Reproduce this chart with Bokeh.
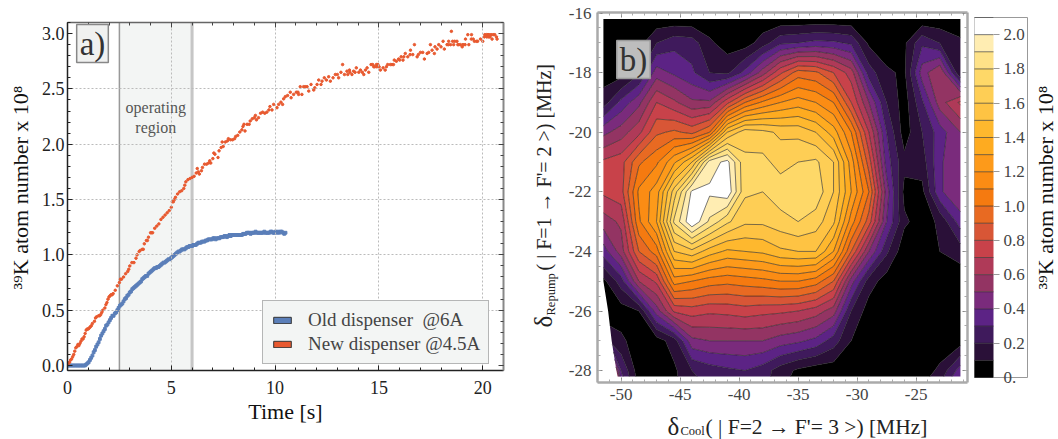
from math import pi
from bokeh.plotting import figure
from bokeh.layouts import row, column
from bokeh.models import (Range1d, FixedTicker, LinearAxis, Label, Span, BoxAnnotation, Legend, LegendItem)
from bokeh.embed import file_html
from bokeh.resources import INLINE
import numpy as np

SERIF = "Liberation Serif"

orange_t = [.05,.1,.15,.2,.25,.3,.35,.4,.45,.5,.55,.6,.65,.7,.75,.8,.85,.9,.95,1.0,1.05,1.1,1.15,1.2,1.3,1.35,1.4,1.5,1.55,1.6,1.65,1.7,1.8,1.85,1.9,1.95,2.0,2.05,2.1,2.15,2.2,2.3,2.4,2.5,2.55,2.6,2.7,2.8,2.9,2.95,3.0,3.1,3.2,3.3,3.35,3.45,3.5,3.6,3.65,3.7,3.8,3.85,3.9,4.0,4.05,4.1,4.2,4.3,4.4,4.5,4.6,4.7,4.8,4.9,5.0,5.05,5.1,5.15,5.2,5.3,5.4,5.5,5.6,5.65,5.7,5.8,5.9,
 6.0,6.1,6.2,6.25,6.3,6.35,6.45,6.5,6.6,6.7,6.8,6.85,6.9,7.0,7.05,7.1,7.25,7.3,7.4,7.45,7.5,7.6,7.7,7.75,7.85,7.95,8.05,8.1,8.2,8.3,8.4,8.45,8.5,8.55,8.65,8.75,8.8,8.9,9.0,9.05,9.1,9.2,9.3,9.4,9.5,9.6,9.7,9.75,9.85,
 9.93,10.09,10.17,10.28,10.36,10.41,10.49,10.60,10.73,10.77,10.89,11.02,11.13,11.21,11.29,11.37,11.54,11.62,11.73,11.86,11.91,12.02,12.10,12.21,12.26,12.37,12.47,12.58,12.66,12.79,12.90,13.06,13.17,13.25,13.34,13.46,13.58,13.70,13.78,13.91,14.03,14.11,14.27,14.35,14.43,14.51,14.62,14.75,14.88,15.01,15.07,15.20,15.36,15.42,15.63,15.74,15.84,15.95,16.07,16.16,16.27,16.39,16.52,16.63,16.71,16.84,17.00,17.11,17.19,17.32,17.40,17.48,17.56,17.67,17.80,17.88,17.99,18.09,18.15,18.28,18.36,18.49,18.60,18.76,18.93,19.01,19.17,19.28,19.33,19.46,19.54,19.70,19.89,20.00,20.08,20.18,20.29,20.40,20.45,20.58,20.66,20.69,
 11.45,11.1,13.0,13.5,13.6,13.85,14.2,14.7,14.95,14.8,14.9,15.3,15.55,15.7,16.0,16.2,16.5,16.9,17.7,18.35,18.45,18.55,18.65,18.8,18.85,19.05,19.15,19.45,19.6,19.75,20.1,20.25,20.3,20.5,20.35,20.2]
orange_v = [.02,.03,.05,.06,.08,.10,.13,.16,.17,.19,.18,.20,.22,.24,.24,.26,.29,.32,.33,.33,.34,.35,.36,.38,.40,.43,.44,.45,.45,.46,.48,.50,.52,.55,.57,.60,.62,.63,.64,.64,.65,.68,.72,.75,.78,.78,.80,.83,.85,.87,.90,.93,.93,.97,1.0,1.03,1.04,1.05,1.05,1.10,1.13,1.13,1.16,1.20,1.20,1.20,1.24,1.26,1.28,1.32,1.34,1.36,1.38,1.40,1.43,1.48,1.48,1.50,1.52,1.55,1.57,1.58,1.60,1.63,1.66,1.68,1.69,
 1.70,1.71,1.74,1.78,1.75,1.73,1.76,1.79,1.82,1.82,1.83,1.85,1.83,1.87,1.92,1.91,1.88,1.94,1.97,2.02,1.98,2.02,2.03,2.05,2.04,2.04,2.05,2.07,2.08,2.11,2.13,2.16,2.18,2.12,2.18,2.18,2.21,2.23,2.24,2.26,2.22,2.24,2.28,2.29,2.28,2.29,2.31,2.34,2.31,
 2.36,2.33,2.36,2.38,2.36,2.41,2.43,2.44,2.47,2.42,2.45,2.47,2.45,2.52,2.45,2.52,2.52,2.48,2.54,2.49,2.51,2.54,2.58,2.54,2.57,2.60,2.58,2.61,2.57,2.60,2.63,2.60,2.65,2.72,2.63,2.66,2.67,2.63,2.66,2.69,2.65,2.67,2.63,2.67,2.69,2.65,2.72,2.70,2.72,2.70,2.67,2.69,2.70,2.72,2.72,2.76,2.75,2.77,2.79,2.76,2.82,2.79,2.85,2.81,2.90,2.79,2.83,2.83,2.77,2.82,2.83,2.90,2.85,2.82,2.86,2.90,2.88,2.93,2.86,2.90,2.93,3.02,2.90,2.93,2.90,2.88,2.95,2.99,2.90,2.99,2.95,2.93,2.95,2.93,2.97,2.99,2.97,2.99,2.95,2.99,2.97,2.95,
 2.52,2.47,2.63,2.63,2.65,2.65,2.65,2.72,2.72,2.70,2.70,2.67,2.72,2.72,2.76,2.79,2.81,2.81,2.88,2.90,2.90,2.93,2.93,2.90,2.90,2.90,2.90,2.95,2.93,2.93,2.99,2.99,2.99,2.99,2.97,2.97]

blue_t = [0,.06,.12,.18,.24,.3,.36,.42,.48,.54,.6,.66,.72,.78,.84,.9,.96,1.02,1.08,1.14,1.2,1.26,1.32,1.38,1.44,1.5,1.56,1.62,1.68,1.74,1.8,1.86,1.92,1.98,2.04,2.1,2.16,2.22,2.28,2.34,2.4,2.46,2.52,2.58,2.64,2.7,2.76,2.82,2.88,2.94,3.0,3.06,3.12,3.18,3.24,3.3,3.36,3.42,3.48,3.54,3.6,3.66,3.72,3.78,3.84,3.9,3.96,4.02,4.08,4.14,4.2,4.26,4.32,4.38,4.44,4.5,4.56,4.62,4.68,4.74,4.8,4.86,4.92,4.98,5.04,5.1,5.16,5.22,5.28,5.34,5.4,5.46,5.52,5.58,5.64,5.7,5.76,5.82,5.88,5.94,6.0,6.06,6.12,6.18,6.24,6.3,6.36,6.42,6.48,6.54,6.6,6.66,6.72,6.78,6.84,6.9,6.96,7.02,7.08,7.14,7.2,7.26,7.32,7.38,7.44,7.5,7.56,7.62,7.68,7.74,7.8,7.86,7.92,7.98,8.04,8.1,8.16,8.22,8.28,8.34,8.4,8.46,8.52,8.58,8.64,8.7,8.76,8.82,8.88,8.94,9.0,9.06,9.12,9.18,9.24,9.3,9.36,9.42,9.48,9.54,9.6,9.66,9.72,9.78,9.84,9.9,9.96,10.02,10.08,10.14,10.2,10.26,10.32,10.38,10.44,10.5]
blue_v = [0,.0,.0,.0,.0,.0,.0,.0,.0,.0,.0,.0,.0,.0,.0,.01,.02,.03,.05,.07,.09,.12,.14,.17,.19,.21,.24,.27,.29,.31,.33,.36,.37,.39,.41,.43,.45,.45,.47,.48,.50,.52,.54,.55,.56,.58,.60,.61,.63,.64,.66,.67,.69,.70,.71,.72,.73,.74,.75,.76,.78,.79,.80,.81,.81,.83,.84,.85,.86,.87,.88,.88,.89,.89,.90,.91,.92,.93,.93,.94,.95,.96,.96,.97,.98,.99,1.0,1.01,1.02,1.03,1.03,1.04,1.05,1.05,1.05,1.06,1.07,1.07,1.08,1.08,1.08,1.09,1.09,1.09,1.10,1.11,1.11,1.11,1.12,1.12,1.12,1.13,1.13,1.14,1.14,1.14,1.14,1.15,1.15,1.14,1.15,1.15,1.15,1.16,1.16,1.16,1.17,1.17,1.16,1.17,1.18,1.17,1.18,1.18,1.18,1.18,1.18,1.18,1.18,1.18,1.18,1.19,1.19,1.19,1.20,1.20,1.20,1.19,1.20,1.20,1.20,1.21,1.20,1.20,1.20,1.20,1.20,1.20,1.21,1.20,1.20,1.20,1.20,1.21,1.21,1.20,1.20,1.21,1.20,1.21,1.20,1.21,1.21,1.20,1.19,1.20]

legend_names = ["Old dispenser  @6A", "New dispenser @4.5A"]

cool_x = [-51.5,-50,-48.5,-47,-45.5,-44,-42.5,-41,-39.5,-38,-36.5,-35,-33.5,-32,-30.5,-29,-27.5,-26,-24.5,-23,-21.25]
repump_y = [-16.2,-17,-18,-19,-20,-21,-22,-23,-24,-25,-26,-27,-28,-28.2]
left_edge = [-51.5,-51.5,-51.5,-51.5,-51.5,-51.5,-51.5,-51.5,-51.5,-51.5,-51.1,-50.8,-50.4,-50.3]
atoms = [
 [.03]*21,
 [.05,.05,.06,.20,.27,.25,.12,.05,.05,.15,.28,.30,.33,.32,.28,.08,.03,.08,.28,.2,.12],
 [.05,.05,.18,.45,.38,.32,.2,.18,.33,.55,.78,.95,.92,.8,.65,.25,.12,.08,.45,.6,.1],
 [.15,.33,.47,.7,.62,.52,.52,.77,1.0,1.12,1.2,1.25,1.2,1.1,.8,.5,.2,.05,.28,.55,.72],
 [.47,.55,.67,.88,.92,.87,1.0,1.5,1.66,1.63,1.58,1.57,1.5,1.35,1.1,.7,.3,.05,.2,.35,.5],
 [.72,.76,.98,1.08,1.28,1.5,1.95,2.03,1.72,1.73,1.66,1.7,1.72,1.6,1.25,.85,.35,.13,.15,.38,.5],
 [.72,.76,1.12,1.25,1.65,2.02,2.02,2.08,1.72,1.7,1.76,1.78,1.77,1.6,1.3,1.0,.45,.07,.07,.38,.5],
 [.55,.62,1.08,1.3,1.82,2.09,1.88,1.72,1.62,1.62,1.66,1.7,1.65,1.52,1.15,.85,.4,.12,.05,.12,.35],
 [.35,.55,.9,1.05,1.5,1.57,1.45,1.38,1.4,1.42,1.48,1.5,1.5,1.3,.9,.5,.22,.03,.05,.1,.15],
 [.07,.25,.6,.72,1.15,1.1,1.05,1.03,1.05,1.07,1.1,1.1,1.05,.9,.45,.15,.05,.03,.03,.03,.03],
 [.05,.05,.1,.45,.72,.75,.72,.73,.75,.73,.72,.7,.65,.55,.2,.05,.03,.03,.03,.03,.03],
 [.15,.12,.05,.05,.15,.47,.5,.5,.5,.5,.45,.42,.37,.25,.1,.03,.03,.03,.03,.04,.05],
 [.55,.3,.04,.03,.08,.2,.25,.28,.3,.25,.15,.08,.04,.04,.03,.03,.03,.03,.05,.12,.35],
 [.6,.33,.05,.03,.08,.18,.25,.28,.3,.25,.14,.07,.04,.04,.03,.03,.03,.03,.06,.15,.4],
]
levels = [0,.1,.2,.3,.4,.5,.6,.7,.8,.9,1.0,1.1,1.2,1.3,1.4,1.5,1.6,1.7,1.8,1.9,2.0,2.1]
band_colors = ["#000000","#2a1038","#3f1a5c","#5c2385","#7a2b7c","#933463","#af3a58","#c8424a","#d85636","#e86a22","#f57a10","#fb8c14","#fd9a1a","#feab20","#feb82e","#fec343","#fece55","#fed868","#fee288","#ffedb2","#ffffff"]
cbar_ticks = [0,.2,.4,.6,.8,1.0,1.2,1.4,1.6,1.8,2.0]

def blank(ticks):
    return {t: "" for t in ticks}

# ---------- panel a ----------
p1 = figure(width=520, height=439, output_backend="svg", toolbar_location=None, frame_align=False,
            x_range=Range1d(0, 21), y_range=Range1d(-0.045, 3.1),
            min_border_left=67, min_border_right=17, min_border_top=22, min_border_bottom=69,
            x_axis_label="Time [s]")
p1.outline_line_color = None
xt = FixedTicker(ticks=[0,5,10,15,20], minor_ticks=list(range(0,22)))
yt = FixedTicker(ticks=[0,.5,1,1.5,2,2.5,3], minor_ticks=[round(i*.1,1) for i in range(0,32)])
for ax, t in ((p1.xaxis[0], xt), (p1.yaxis[0], yt)):
    ax.ticker = t
    ax.major_tick_in = 5; ax.major_tick_out = 0
    ax.minor_tick_in = 3; ax.minor_tick_out = 0
    ax.axis_line_color = "#222222"; ax.axis_line_width = 1.5
    ax.major_tick_line_color = "#222222"; ax.minor_tick_line_color = "#222222"
    ax.major_label_text_font = SERIF; ax.major_label_text_font_size = "18px"
    ax.major_label_text_color = "#222222"
    ax.axis_label_text_font = SERIF; ax.axis_label_text_font_size = "22px"
    ax.axis_label_text_font_style = "normal"; ax.axis_label_text_color = "#111111"
p1.xaxis[0].major_label_overrides = {0:"0",5:"5",10:"10",15:"15",20:"20"}
p1.yaxis[0].major_label_overrides = {0:"0.0",.5:"0.5",1:"1.0",1.5:"1.5",2:"2.0",2.5:"2.5",3:"3.0"}
p1.xaxis[0].major_label_standoff = 10
p1.yaxis[0].major_label_standoff = 3
p1.xaxis[0].axis_label_standoff = 2
top = LinearAxis(ticker=xt, major_label_overrides=blank([0,5,10,15,20]), major_tick_in=5, major_tick_out=0,
                 minor_tick_in=3, minor_tick_out=0, axis_line_color="#666666", axis_line_width=1.5,
                 major_tick_line_color="#444444", minor_tick_line_color="#444444")
right = LinearAxis(ticker=yt, major_label_overrides=blank([0,.5,1,1.5,2,2.5,3]), major_tick_in=5, major_tick_out=0,
                   minor_tick_in=3, minor_tick_out=0, axis_line_color="#888888", axis_line_width=2,
                   major_tick_line_color="#444444", minor_tick_line_color="#444444")
p1.add_layout(top, "above"); p1.add_layout(right, "right")
p1.xgrid.ticker = FixedTicker(ticks=[5,10,15,20]); p1.ygrid.ticker = FixedTicker(ticks=[.5,1,1.5,2,2.5])
p1.grid.grid_line_color = "#bbbbbb"; p1.grid.grid_line_dash = "2 2"; p1.grid.grid_line_width = 1
p1.grid.level = "glyph"
p1.add_layout(BoxAnnotation(left=2.5, right=6, fill_color="#f3f5f4", fill_alpha=1, line_color=None, level="underlay"))
p1.add_layout(Span(location=2.5, dimension="height", line_color="#999999", line_width=1.5, level="underlay"))
p1.add_layout(Span(location=6, dimension="height", line_color="#c6c6c6", line_width=3, level="underlay"))
p1.add_layout(Label(x=4.25, y=2.33, text="operating", text_align="center", text_baseline="middle",
                    text_font=SERIF, text_font_size="16px", text_color="#555555"))
p1.add_layout(Label(x=4.25, y=2.15, text="region", text_align="center", text_baseline="middle",
                    text_font=SERIF, text_font_size="16px", text_color="#555555"))
blue_r = p1.scatter(blue_t, blue_v, marker="square", size=2.8, color="#5b7fb9")
orange_r = p1.scatter(orange_t, orange_v, marker="circle", size=2.5, color="#e8592f")
nan = float("nan")
sw_blue = p1.quad(left=[nan], right=[nan], top=[nan], bottom=[nan], fill_color="#5b7fb9", line_color="#333333")
sw_orange = p1.quad(left=[nan], right=[nan], top=[nan], bottom=[nan], fill_color="#e8592f", line_color="#333333")
leg = Legend(items=[LegendItem(label=legend_names[0], renderers=[sw_blue]),
                    LegendItem(label=legend_names[1], renderers=[sw_orange])],
             location=(195, 6), glyph_width=22, glyph_height=8, label_standoff=15,
             label_text_font=SERIF, label_text_font_size="19px", label_text_color="#444444",
             background_fill_color="#f3f5f4", background_fill_alpha=1,
             border_line_color="#777777", border_line_width=1.5, padding=8, margin=0, spacing=2)
p1.add_layout(leg, "center")
p1.add_layout(Label(x=25, y=327, text="a)", x_units="screen", y_units="screen", text_align="center", text_baseline="middle",
                    text_font=SERIF, text_font_size="33px", text_color="#333333",
                    background_fill_color="#f0f1f0", border_line_color="#888888", border_line_width=1.5, padding=(3,1)))
p1.add_layout(Label(x=20, y=187, text="³⁹K atom number x 10⁸", x_units="canvas", y_units="canvas", angle=pi/2,
                    text_align="center", text_baseline="middle", text_font=SERIF, text_font_size="22px", text_color="#111111"), "left")

# ---------- panel b ----------
p2 = figure(width=538, height=412, output_backend="svg", toolbar_location=None, frame_align=False,
            x_range=Range1d(-52.0, -20.65), y_range=Range1d(-28.4, -15.98),
            min_border_left=77, min_border_right=91, min_border_top=12, min_border_bottom=30)
p2.outline_line_color = None; p2.grid.visible = False
x2d = [[left_edge[i]] + cool_x[1:] for i in range(len(repump_y))]
y2d = [[yv]*len(cool_x) for yv in repump_y]
cr = p2.contour(np.array(x2d), np.array(y2d), np.array(atoms), levels=levels, fill_color=band_colors,
                line_color="#222222", line_alpha=.6, line_width=1)
xt2 = FixedTicker(ticks=[-50,-45,-40,-35,-30,-25], minor_ticks=list(range(-52,-20)))
yt2 = FixedTicker(ticks=list(range(-28,-15,2)), minor_ticks=[-28.5+.5*i for i in range(0,26)])
xlab = {-50:"-50",-45:"-45",-40:"-40",-35:"-35",-30:"-30",-25:"-25"}
ylab = {t:str(t) for t in range(-28,-15,2)}
for ax, t, lab in ((p2.xaxis[0], xt2, xlab), (p2.yaxis[0], yt2, ylab)):
    ax.ticker = t; ax.major_label_overrides = lab
    ax.major_tick_in = 5; ax.major_tick_out = 0; ax.minor_tick_in = 3; ax.minor_tick_out = 0
    ax.axis_line_color = "#aaaaaa"; ax.axis_line_width = 2.5
    ax.major_tick_line_color = "#888888"; ax.minor_tick_line_color = "#aaaaaa"
    ax.major_label_text_font = SERIF; ax.major_label_text_font_size = "17px"
    ax.major_label_text_color = "#444444"
p2.xaxis[0].major_label_standoff = 6
p2.yaxis[0].major_label_standoff = 6
for t, lab, side in ((xt2, xlab, "above"), (yt2, ylab, "right")):
    p2.add_layout(LinearAxis(ticker=t, major_label_overrides=blank(list(lab)), major_tick_in=5, major_tick_out=0,
                             minor_tick_in=3, minor_tick_out=0, axis_line_color="#aaaaaa", axis_line_width=2.5,
                             major_tick_line_color="#888888", minor_tick_line_color="#aaaaaa"), side)
cb = cr.construct_color_bar(location=(377, 5), width=19, height=360, padding=0,
                            major_label_overrides={0:"0.",.2:"0.2",.4:"0.4",.6:"0.6",.8:"0.8",1.0:"1.0",1.2:"1.2",1.4:"1.4",1.6:"1.6",1.8:"1.8",2.0:"2.0"},
                            major_label_text_font=SERIF, major_label_text_font_size="17px", major_label_text_color="#444444",
                            major_tick_line_color="#999999", major_tick_in=0, major_tick_out=6, label_standoff=4,
                            border_line_color="#999999", bar_line_color="#444444", bar_line_alpha=.6,
                            background_fill_alpha=0)
cb.ticker = FixedTicker(ticks=cbar_ticks)
p2.add_layout(cb, "center")

def lab2(text, x, y, size, angle=0, align="left", color="#222222", side="left", units="canvas", **kw):
    lab = Label(x=x, y=y, text=text, x_units=units, y_units=units, angle=angle, text_align=align,
                text_baseline="middle", text_font=SERIF, text_font_size=size, text_color=color, **kw)
    if side:
        p2.add_layout(lab, side)
    else:
        p2.add_layout(lab)

# y titles of panel b, in canvas pixels
lab2("δ", 23, 327, "25px", angle=pi/2, side="left")
lab2("Repump", 30, 315, "12.5px", angle=pi/2, side="left")
lab2("( | F=1 → F'= 2 >) [MHz]", 23, 270, "20px", angle=pi/2, side="right")
lab2("b)", 36, 323, "33px", align="center", color="#333333", side=None, units="screen",
     background_fill_color="#bdbdbd", border_line_color="#999999", border_line_width=1.5, padding=(3,1))
lab2("³⁹K atom number x 10⁸", 525, 187, "22px", angle=pi/2, align="center", color="#111111", side="right")

# x title of panel b, on a strip of its own below the plot
p3 = figure(width=538, height=27, output_backend="svg", toolbar_location=None, frame_align=False,
            x_range=Range1d(0, 538), y_range=Range1d(0, 27), x_axis_location=None, y_axis_location=None,
            min_border=0)
p3.outline_line_color = None; p3.grid.visible = False
for text, x, y, size in (("δ", 147, 13, "25px"), ("Cool", 160, 9, "12.5px"), ("( | F=2 →  F'= 3 >) [MHz]", 185, 13, "21.5px")):
    p3.add_layout(Label(x=x, y=y, text=text, x_units="screen", y_units="screen", text_baseline="middle",
                        text_font=SERIF, text_font_size=size, text_color="#222222"))

open("out.html", "w").write(file_html(row(p1, column(p2, p3, spacing=0), spacing=0), INLINE))
